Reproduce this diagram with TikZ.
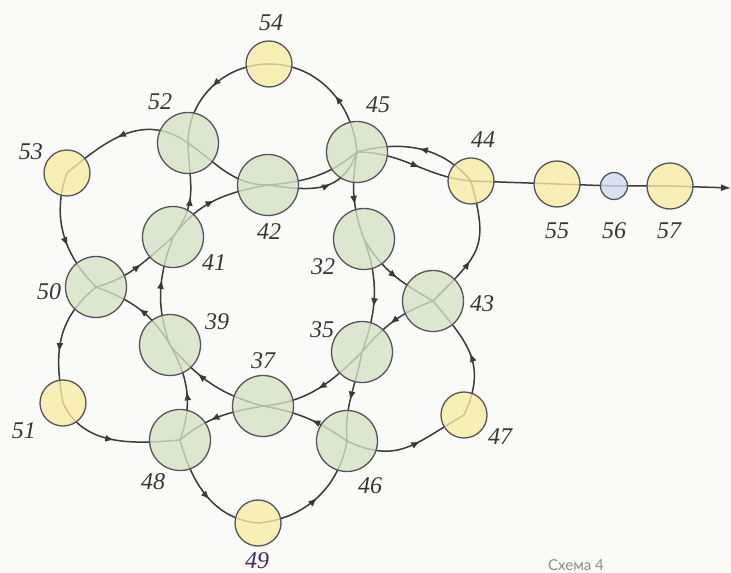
\documentclass[tikz,border=0pt]{standalone}
\usepackage{fontspec}
\newfontfamily\capfont{Lato}
\newfontfamily\labfont{Liberation Serif}
\usetikzlibrary{arrows.meta,decorations.markings}
\definecolor{gfill}{RGB}{214,226,198}
\definecolor{yfill}{RGB}{248,236,164}
\definecolor{bfill}{RGB}{206,220,238}
\definecolor{edgec}{RGB}{58,58,58}
\definecolor{ringc}{RGB}{85,85,85}
\definecolor{labc}{RGB}{55,55,55}
\definecolor{purp}{RGB}{70,40,90}
\definecolor{paper}{RGB}{250,250,248}
\pgfdeclarelayer{paperlayer}
\pgfdeclarelayer{edgelayer}
\pgfsetlayers{paperlayer,edgelayer,main}
\tikzset{
  gnode/.style={circle, draw=ringc, line width=1.3pt, fill=gfill, fill opacity=0.78, text opacity=1, minimum size=61pt, inner sep=0pt},
  ynode/.style={gnode, fill=yfill, minimum size=46pt},
  bnode/.style={gnode, fill=bfill, minimum size=27pt},
  lab/.style={text=labc, font=\labfont\fontsize{24}{28}\selectfont\itshape, inner sep=0pt},
  con/.style={edgec, line width=1.5pt},
  ar/.style={postaction={decorate}, decoration={markings, mark=at position #1 with {\arrow{Latex[length=9pt,width=7pt]}}}},
  ar/.default=0.5,
}
\begin{document}
\begin{tikzpicture}[x=1pt,y=1pt]
\useasboundingbox (0,0) rectangle (731,573);
\begin{pgfonlayer}{paperlayer}
\fill[paper] (0,0) rectangle (731,573);
\end{pgfonlayer}
% nodes
\node[ynode] (n54) at (269,509) {};
\node[ynode] (n53) at (67,400) {};
\node[ynode] (n44) at (471,392) {};
\node[ynode] (n55) at (557,389) {};
\node[bnode] (n56) at (614,387) {};
\node[ynode] (n57) at (670,387) {};
\node[ynode] (n51) at (63,170) {};
\node[ynode] (n49) at (258,50) {};
\node[ynode] (n47) at (464,158) {};
\node[gnode] (n52) at (188,430) {};
\node[gnode] (n45) at (357,421) {};
\node[gnode] (n42) at (268,388) {};
\node[gnode] (n41) at (173,336) {};
\node[gnode] (n32) at (364,334) {};
\node[gnode] (n43) at (433,272) {};
\node[gnode] (n35) at (362,221) {};
\node[gnode] (n37) at (263,167) {};
\node[gnode] (n39) at (170,228) {};
\node[gnode] (n50) at (96,286) {};
\node[gnode] (n48) at (180,133) {};
\node[gnode] (n46) at (347,132) {};
\coordinate (outend) at (731,385);
% labels
\node[lab] (l54) at (271,550) {54};
\node[lab] (l53) at (31,421) {53};
\node[lab] (l44) at (483,433) {44};
\node[lab] (l55) at (557,342) {55};
\node[lab] (l56) at (614,342) {56};
\node[lab] (l57) at (669,342) {57};
\node[lab] (l51) at (24,142) {51};
\node[lab,text=purp] (l49) at (257,12) {49};
\node[lab] (l47) at (500,136) {47};
\node[lab] (l52) at (160,471) {52};
\node[lab] (l45) at (378,468) {45};
\node[lab] (l42) at (269,341) {42};
\node[lab] (l41) at (214,310) {41};
\node[lab] (l32) at (323,306) {32};
\node[lab] (l43) at (482,269) {43};
\node[lab] (l35) at (322,243) {35};
\node[lab] (l37) at (263,212) {37};
\node[lab] (l39) at (217,251) {39};
\node[lab] (l50) at (49,281) {50};
\node[lab] (l48) at (153,91) {48};
\node[lab] (l46) at (370,87) {46};
\node[font=\capfont\fontsize{15}{18}\selectfont, text=black!45, anchor=base west, inner sep=0pt] (cap) at (548,2) {Схема 4};
% connectors
\begin{pgfonlayer}{edgelayer}
% top petal
\draw[con,ar=0.45] (n45.center) to[out=95,in=0] (n54.center);
\draw[con,ar=0.5] (n54.center) to[out=180,in=90] (n52.center);
\draw[con] (n52.center) to[out=325,in=180] (n42.center);
\draw[con] (n42.center) to[out=5,in=220] (n45.center);
% top-left petal
\draw[con,ar=0.55] (n52.center) to[out=145,in=40,looseness=1.1] (n53.center);
\draw[con,ar=0.6] (n53.center) to[out=250,in=135] (n50.center);
\draw[con,ar=0.55] (n50.center) to[out=15,in=220] (n41.center);
\draw[con,ar=0.45] (n41.center) to[out=55,in=272,looseness=1.2] (n52.center);
% left-bottom petal
\draw[con,ar=0.6] (n50.center) to[out=220,in=100,looseness=1.1] (n51.center);
\draw[con,ar=0.5] (n51.center) to[out=295,in=185] (n48.center);
\draw[con,ar=0.5] (n48.center) to[out=70,in=300] (n39.center);
\draw[con,ar=0.5] (n39.center) to[out=120,in=340] (n50.center);
% bottom petal
\draw[con,ar=0.55] (n48.center) to[out=285,in=175] (n49.center);
\draw[con,ar=0.5] (n49.center) to[out=5,in=260] (n46.center);
\draw[con,ar=0.45] (n46.center) to[out=145,in=350] (n37.center);
\draw[con,ar=0.6] (n37.center) to[out=190,in=40] (n48.center);
% bottom-right petal
\draw[con,ar=0.6] (n46.center) to[out=335,in=210,looseness=1.2] (n47.center);
\draw[con,ar=0.5] (n47.center) to[out=65,in=310,looseness=1.2] (n43.center);
\draw[con,ar=0.55] (n43.center) to[out=200,in=50] (n35.center);
\draw[con,ar=0.55] (n35.center) to[out=260,in=95] (n46.center);
% right-top petal
\draw[con,ar=0.4] (n43.center) to[out=45,in=285,looseness=1.4] (n44.center);
\draw[con,ar=0.5] (n44.center) to[out=130,in=15] (n45.center);
\draw[con,ar=0.6] (n45.center) to[out=260,in=110] (n32.center);
\draw[con,ar=0.55] (n32.center) to[out=300,in=150] (n43.center);
% inner ring
\draw[con,ar=0.6] (n39.center) to[out=110,in=250] (n41.center);
\draw[con,ar=0.5] (n41.center) to[out=55,in=190] (n42.center);
\draw[con,ar=0.6] (n42.center) to[out=-8,in=250,looseness=1.2] (n45.center);
\draw[con,ar=0.6] (n32.center) to[out=290,in=70] (n35.center);
\draw[con,ar=0.5] (n35.center) to[out=225,in=5] (n37.center);
\draw[con,ar=0.65] (n37.center) to[out=165,in=310] (n39.center);
% output line
\draw[con,ar=0.55] (n45.center) to[out=0,in=175] (n44.center);
\draw[con,-{Latex[length=10pt,width=7pt]}] (n44.center) -- (n55.center) -- (n56.center) -- (n57.center) -- (outend);
\end{pgfonlayer}
\end{tikzpicture}
\end{document}
